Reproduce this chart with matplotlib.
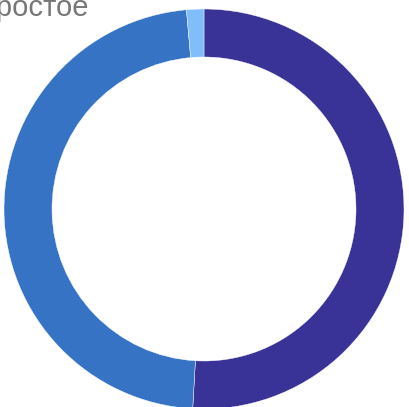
import matplotlib.pyplot as plt

values = [50.9, 47.7, 1.4]
colors = ["#3a3397", "#3673c4", "#80bdfb"]
label_text = "Простое"

W, H = 409, 407
fig = plt.figure(figsize=(W / 100, H / 100), dpi=100)

# ring: centre at (204, 209) px from top-left, outer radius 200 px
cx, cy, r = 204, 209, 200
ax = fig.add_axes([(cx - r) / W, (H - cy - r) / H, 2 * r / W, 2 * r / H])
ax.pie(values, colors=colors, startangle=90, counterclock=False,
       radius=1, wedgeprops=dict(width=0.24, edgecolor="white", linewidth=0.3))
ax.set_xlim(-1, 1)
ax.set_ylim(-1, 1)
ax.axis("off")

# label sticking out past the top-left corner (right end at x=89 px)
fig.text(89 / W, (H - 15.5) / H, label_text, fontsize=21, color="#777777",
         family=["Liberation Sans", "DejaVu Sans"], ha="right", va="baseline")

fig.savefig("out.png", dpi=100)
